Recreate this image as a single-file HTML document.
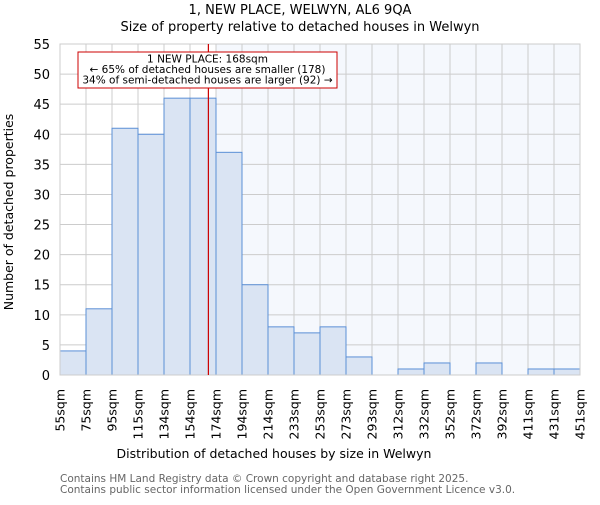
<!DOCTYPE html>
<html><head><meta charset="utf-8"><style>body{margin:0;background:#fff}svg{font-family:"DejaVu Sans","Liberation Sans",sans-serif}</style></head>
<body>
<svg id="c" width="600" height="500" xmlns="http://www.w3.org/2000/svg">
<text x="300" y="14" text-anchor="middle" font-size="13">1, NEW PLACE, WELWYN, AL6 9QA</text>
<text x="300" y="31" text-anchor="middle" font-size="13">Size of property relative to detached houses in Welwyn</text>
<g id="plot"></g>
<text x="274" y="458" text-anchor="middle" font-size="12.5">Distribution of detached houses by size in Welwyn</text>
<text transform="translate(13,212) rotate(-90)" text-anchor="middle" font-size="12.5">Number of detached properties</text>
<text x="60" y="482" font-size="10.5" fill="#666">Contains HM Land Registry data © Crown copyright and database right 2025.</text>
<text x="60" y="493" font-size="10.5" fill="#666">Contains public sector information licensed under the Open Government Licence v3.0.</text>
</svg>
<script>
const labels=["55sqm","75sqm","95sqm","115sqm","134sqm","154sqm","174sqm","194sqm","214sqm","233sqm","253sqm","273sqm","293sqm","312sqm","332sqm","352sqm","372sqm","392sqm","411sqm","431sqm","451sqm"];
const counts=[4,11,41,40,46,46,37,15,8,7,8,3,0,1,2,0,2,0,1,1];
const yTicks=[0,5,10,15,20,25,30,35,40,45,50,55];
const propertySize=168;
const binStart=55, binWidth=19.8;
const L=60,R=580,T=44,B=375,yMax=55;
const bw=(R-L)/counts.length;
const ns="http://www.w3.org/2000/svg";
const g=document.getElementById('plot');
const X=v=>L+(v-binStart)/binWidth*bw;
const Y=v=>B-v/yMax*(B-T);
function mk(t,a){const e=document.createElementNS(ns,t);for(const k in a)e.setAttribute(k,a[k]);g.appendChild(e);return e;}
const pi=Math.floor((propertySize-binStart)/binWidth);
let sh=mk('rect',{x:L+(pi+1)*bw,y:T,width:R-L-(pi+1)*bw,height:B-T,fill:'#f5f8fd'});


yTicks.forEach(t=>{let l=mk('line',{x1:L,x2:R,y1:Y(t),y2:Y(t),stroke:'#cccccc'});


let tx=mk('text',{x:L-10,y:Y(t)+5,'text-anchor':'end','font-size':13});tx.textContent=t;

});
labels.forEach((s,i)=>{const x=L+i*bw;let l=mk('line',{x1:x,x2:x,y1:T,y2:B,stroke:'#cccccc'});


let tx=mk('text',{transform:`translate(${x+4.5},${B+14}) rotate(-90)`,'text-anchor':'end','font-size':12.5});tx.textContent=s;

});
counts.forEach((c,i)=>{if(!c)return;let r=mk('rect',{x:L+i*bw,y:Y(c),width:bw,height:B-Y(c),fill:'#dae4f3',stroke:'#5b8fd6','stroke-width':1});

});
let ax=mk('rect',{x:L,y:T,width:R-L,height:B-T,fill:'none',stroke:'#cccccc'});


const px=X(propertySize);
let rl=mk('line',{x1:px,x2:px,y1:T,y2:B,stroke:'#cc0000','stroke-width':1.2});


let box=mk('rect',{x:78,y:52,width:259,height:36,fill:'#fff',stroke:'#cc0000'});


["1 NEW PLACE: 168sqm","← 65% of detached houses are smaller (178)","34% of semi-detached houses are larger (92) →"].forEach((s,i)=>{let t=mk('text',{x:207.5,y:62.5+i*10.5,'text-anchor':'middle','font-size':10.5});t.textContent=s;

});
</script>
</body></html>
